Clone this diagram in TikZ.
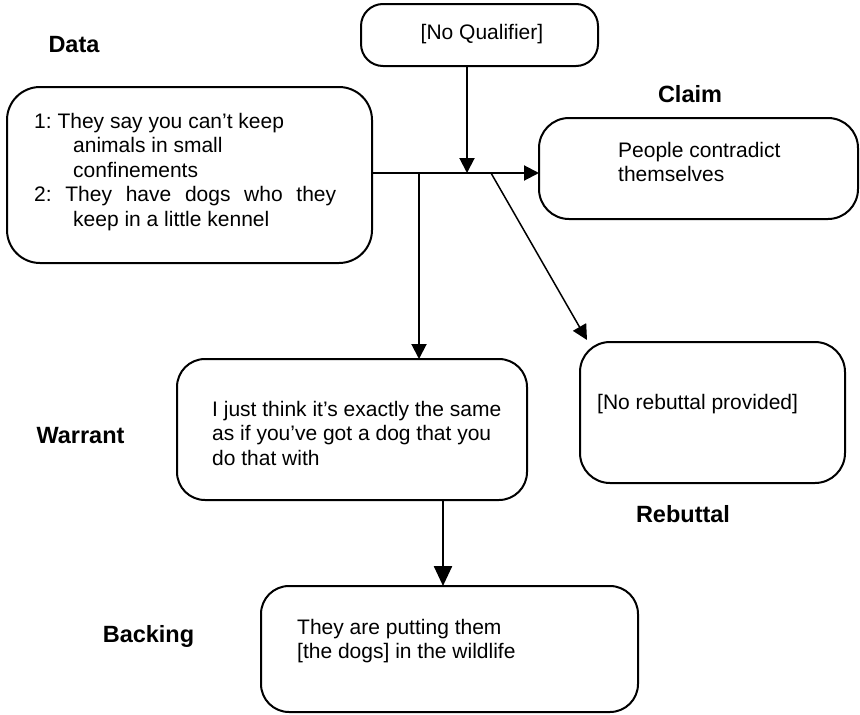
\documentclass[tikz,border=0pt]{standalone}
\usepackage{fontspec}
\setmainfont{Liberation Sans}
\usetikzlibrary{arrows.meta}
\frenchspacing
\begin{document}
\begin{tikzpicture}[x=1pt,y=-1pt,
  box/.style={draw, line width=2pt, rounded corners=28pt, inner sep=0pt, outer sep=0pt},
  txt/.style={anchor=base west, inner sep=0pt, font=\fontsize{21}{24.5}\selectfont},
  lbl/.style={anchor=base, inner sep=0pt, font=\fontsize{23.5}{28}\selectfont\bfseries},
  arr/.style={line width=2pt, -{Triangle[length=15pt,width=15pt]}},
]
\useasboundingbox (0,0) rectangle (860,715);

% boxes
\node[box, rounded corners=22pt, minimum width=237pt, minimum height=62pt] (qual) at (479.5,35) {};
\node[box, rounded corners=33pt, minimum width=365pt, minimum height=176pt] (data) at (189.5,175) {};
\node[box, rounded corners=30pt, minimum width=319pt, minimum height=101pt] (claim) at (698.5,168.5) {};
\node[box, minimum width=350pt, minimum height=141pt] (warrant) at (352,429.5) {};
\node[box, rounded corners=30pt, minimum width=265pt, minimum height=141pt] (rebuttal) at (712.5,412.5) {};
\node[box, minimum width=377pt, minimum height=126pt] (backing) at (449.5,649) {};

% texts
\node[txt, anchor=base] (qualtxt) at (482,39) {[No Qualifier]};
\node[txt] (datatxt) at (34,128) {\vtop{%
  \hbox{1: They say you can’t keep}
  \hbox{\hspace{39pt}animals in small}
  \hbox{\hspace{39pt}confinements}
  \hbox{\frenchspacing\makebox[302pt][s]{2: They have dogs who they}}
  \hbox{\hspace{39pt}keep in a little kennel}}};
\node[txt] (claimtxt) at (618,157) {\vtop{%
  \hbox{People contradict}
  \hbox{themselves}}};
\node[txt] (warranttxt) at (212,416) {\vtop{%
  \hbox{I just think it’s exactly the same}
  \hbox{as if you’ve got a dog that you}
  \hbox{do that with}}};
\node[txt] (rebuttaltxt) at (597,409) {[No rebuttal provided]};
\node[txt] (backingtxt) at (297,634) {\vtop{%
  \hbox{They are putting them}
  \hbox{[the dogs] in the wildlife}}};

% labels
\node[lbl] (ldata) at (74,52.5) {Data};
\node[lbl] (lclaim) at (690,102) {Claim};
\node[lbl] (lwarrant) at (80.5,443.5) {Warrant};
\node[lbl] (lrebuttal) at (683,522) {Rebuttal};
\node[lbl] (lbacking) at (148.5,642.5) {Backing};

% connectors
\coordinate (j) at (467,173);
\coordinate (wj) at (419,173);
\coordinate (rj) at (491,173);
\coordinate (bx) at (443,0);
\draw[arr] (data.east |- j) -- (claim.west |- j);
\draw[arr] (j |- qual.south) -- (j);
\draw[arr] (wj) -- (wj |- warrant.north);
\draw[arr, line width=1.5pt] (rj) -- ([shift={(7,-2)}]rebuttal.north west);
\draw[line width=2.5pt, -{Triangle[length=20pt,width=18pt]}] (bx |- warrant.south) -- (bx |- backing.north);
\end{tikzpicture}
\end{document}
